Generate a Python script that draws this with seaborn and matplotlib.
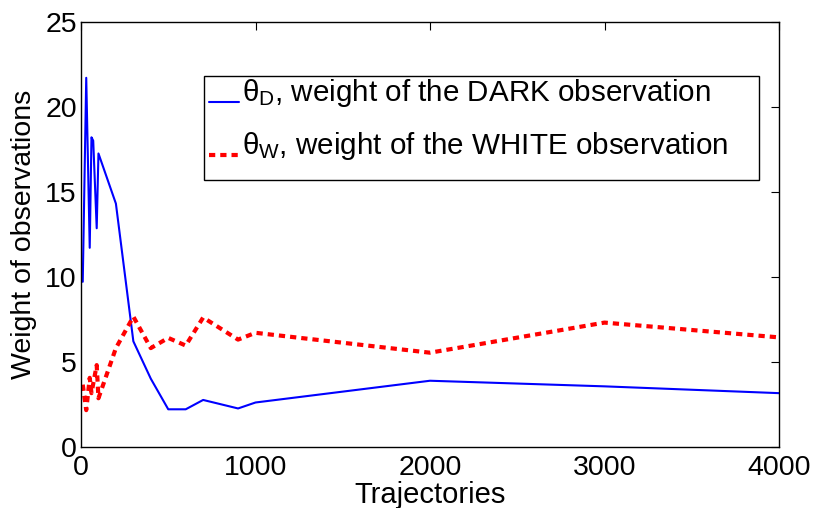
import matplotlib
matplotlib.use("Agg")
import matplotlib.pyplot as plt
from matplotlib.patches import Rectangle
from matplotlib.lines import Line2D
from matplotlib.legend_handler import HandlerLine2D
import numpy as np
import seaborn as sns
import pandas as pd

# Number of trajectories at which the weights were estimated
trajectories = [10, 30, 50, 60, 70, 90, 100, 200, 300, 400, 500, 600, 700,
                900, 1000, 2000, 3000, 4000]

# Weight of the DARK observation (theta_D)
theta_dark = [9.7, 21.7, 11.7, 18.2, 18.0, 12.85, 17.25, 14.3, 6.2, 4.0, 2.2,
              2.2, 2.75, 2.25, 2.6, 3.88, 3.55, 3.15]

# Weight of the WHITE observation (theta_W)
theta_white = [3.65, 2.15, 4.05, 3.15, 3.7, 4.8, 2.85, 5.8, 7.65, 5.8, 6.4,
               5.95, 7.6, 6.3, 6.7, 5.53, 7.3, 6.43]

legend_labels = [r"$\theta_{\rm D}$, weight of the DARK observation",
                 r"$\theta_{\rm W}$, weight of the WHITE observation"]
x_ticks = [0, 1000, 2000, 3000, 4000]
y_ticks = [0, 5, 10, 15, 20, 25]

df = pd.DataFrame({"Trajectories": trajectories,
                   "dark": theta_dark,
                   "white": theta_white})

sns.set_style("white")
plt.rcParams["font.family"] = ["Liberation Sans", "DejaVu Sans"]
plt.rcParams["mathtext.fontset"] = "custom"
plt.rcParams["mathtext.rm"] = "Liberation Sans"
plt.rcParams["mathtext.it"] = "Liberation Sans"
plt.rcParams["mathtext.bf"] = "Liberation Sans:bold"
for key in ("text.color", "axes.labelcolor", "xtick.color", "ytick.color",
            "axes.edgecolor"):
    plt.rcParams[key] = "black"


class BaselineLineHandler(HandlerLine2D):
    """Legend line drawn at the text baseline rather than its centre."""

    def create_artists(self, legend, orig_handle, xdescent, ydescent,
                       width, height, fontsize, trans):
        artists = super().create_artists(legend, orig_handle, xdescent,
                                         ydescent, width, height, fontsize,
                                         trans)
        for a in artists:
            if isinstance(a, Line2D):
                a.set_ydata(np.asarray(a.get_ydata(), dtype=float) - 8.5)
        return artists


W, H = 815, 508
fig = plt.figure(figsize=(W / 100, H / 100), dpi=100)
ax = fig.add_axes([81 / W, 1 - 446.7 / H, (779 - 81) / W, (446.7 - 21.7) / H])

sns.lineplot(data=df, x="Trajectories", y="dark", ax=ax, color=(0, 0, 1),
             linewidth=1.5, estimator=None, sort=False, label=legend_labels[0])
sns.lineplot(data=df, x="Trajectories", y="white", ax=ax, color=(1, 0, 0),
             linewidth=3.0, estimator=None, sort=False, label=legend_labels[1],
             linestyle=(0, (1.5, 1.2)), dash_capstyle="butt")

ax.set_xlim(0, 4000)
ax.set_ylim(0, 25)
ax.set_xticks(x_ticks)
ax.set_yticks(y_ticks)
ax.tick_params(direction="in", length=6, width=0.8, top=True, right=True,
               labelsize=20.5, colors="black")
ax.tick_params(axis="x", pad=6)
ax.tick_params(axis="y", pad=3)
for s in ax.spines.values():
    s.set_visible(True)
    s.set_color("black")
    s.set_linewidth(1.0)

ax.set_xlabel("Trajectories", fontsize=21, labelpad=0)
ax.set_ylabel("Weight of observations", fontsize=20.5, labelpad=6)

# Legend entries without their own frame, boxed by a plain rectangle
handles, labels = ax.get_legend_handles_labels()
leg = ax.legend(handles, labels, loc="upper left",
                bbox_to_anchor=(209 / W, 1 - 77 / H),
                bbox_transform=fig.transFigure, fontsize=21.3, frameon=False,
                handlelength=1.0, handletextpad=0.12, borderpad=0,
                labelspacing=0.7, borderaxespad=0,
                handler_map={Line2D: BaselineLineHandler()})
leg.set_zorder(6)
box = Rectangle((204.3 / W, 1 - 180 / H), (759.3 - 204.3) / W,
                (180 - 75.7) / H, transform=fig.transFigure, clip_on=False,
                facecolor="white", edgecolor="black", linewidth=1.0, zorder=5)
ax.add_artist(box)

fig.savefig("out.png", dpi=100)
